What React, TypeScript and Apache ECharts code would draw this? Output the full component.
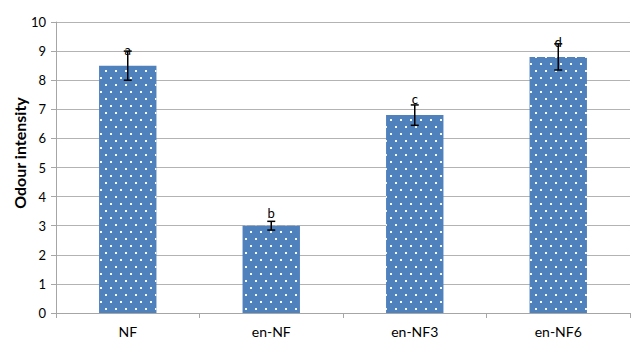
import React, { useEffect, useRef } from "react";
import * as echarts from "echarts";

const categories = ["NF", "en-NF", "en-NF3", "en-NF6"];
const values = [8.5, 3.0, 6.8, 8.8];
const errors = [0.5, 0.15, 0.35, 0.45];
const letters = ["a", "b", "c", "d"];
const letterValues = [9.05, 3.45, 7.35, 9.3];
const yTicks = { min: 0, max: 10, interval: 1 };
const yTitle = "Odour intensity";

export default function App() {
  const ref = useRef<HTMLDivElement>(null);
  useEffect(() => {
    if (!ref.current) return;
    const chart = echarts.init(ref.current, undefined, { renderer: "svg" });
    const font = "Lato, 'Open Sans', sans-serif";
    chart.setOption({
      animation: false,
      grid: { left: 56, right: 1, top: 22, bottom: 27, containLabel: false },
      graphic: [
        {
          type: "text",
          x: 19,
          y: 153,
          rotation: Math.PI / 2,
          style: {
            text: yTitle,
            fill: "#000",
            font: `bold 16px ${font}`,
            align: "center",
            verticalAlign: "middle",
          },
        },
      ],
      xAxis: {
        type: "category",
        data: categories,
        boundaryGap: true,
        axisLine: { lineStyle: { color: "#a6a6a6", width: 1 } },
        axisTick: { show: true, length: 5, alignWithLabel: false, lineStyle: { color: "#a6a6a6" } },
        axisLabel: { color: "#000", fontFamily: font, fontSize: 14, margin: 11 },
      },
      yAxis: {
        type: "value",
        min: yTicks.min,
        max: yTicks.max,
        interval: yTicks.interval,
        axisLine: { show: true, lineStyle: { color: "#a6a6a6" } },
        axisTick: { show: true, length: 5, lineStyle: { color: "#a6a6a6" } },
        axisLabel: { color: "#000", fontFamily: font, fontSize: 13, margin: 10 },
        splitLine: { show: true, lineStyle: { color: "#b3b3b3", width: 1 } },
      },
      series: [
        {
          type: "bar",
          data: values,
          barWidth: "40%",
          itemStyle: {
            color: "#4f81bd",
            decal: {
              symbol: "rect",
              symbolSize: 1,
              color: "rgba(255,255,255,0.95)",
              dashArrayX: [[2, 8], [0, 5, 2, 3]],
              dashArrayY: [2, 4.7],
              rotation: 0,
            },
          },
        },
        {
          type: "custom",
          data: values.map((v, i) => [i, v - errors[i], v + errors[i], letterValues[i]]),
          z: 10,
          renderItem: (params: any, api: any) => {
            const i = api.value(0);
            const lo = api.coord([i, api.value(1)]);
            const hi = api.coord([i, api.value(2)]);
            const lt = api.coord([i, api.value(3)]);
            const cap = 4;
            const style = { stroke: "#000", lineWidth: 1.5 };
            return {
              type: "group",
              children: [
                { type: "line", shape: { x1: lo[0], y1: lo[1], x2: hi[0], y2: hi[1] }, style },
                { type: "line", shape: { x1: hi[0] - cap, y1: hi[1], x2: hi[0] + cap, y2: hi[1] }, style },
                { type: "line", shape: { x1: lo[0] - cap, y1: lo[1], x2: lo[0] + cap, y2: lo[1] }, style },
                {
                  type: "text",
                  x: lt[0],
                  y: lt[1],
                  style: {
                    text: letters[params.dataIndex],
                    fill: "#000",
                    font: `13px ${font}`,
                    align: "center",
                    verticalAlign: "middle",
                  },
                },
              ],
            };
          },
        },
      ],
    });
    return () => chart.dispose();
  }, []);
  return <div ref={ref} style={{ width: 631, height: 340, position: "absolute", left: 0, top: 0 }} />;
}
